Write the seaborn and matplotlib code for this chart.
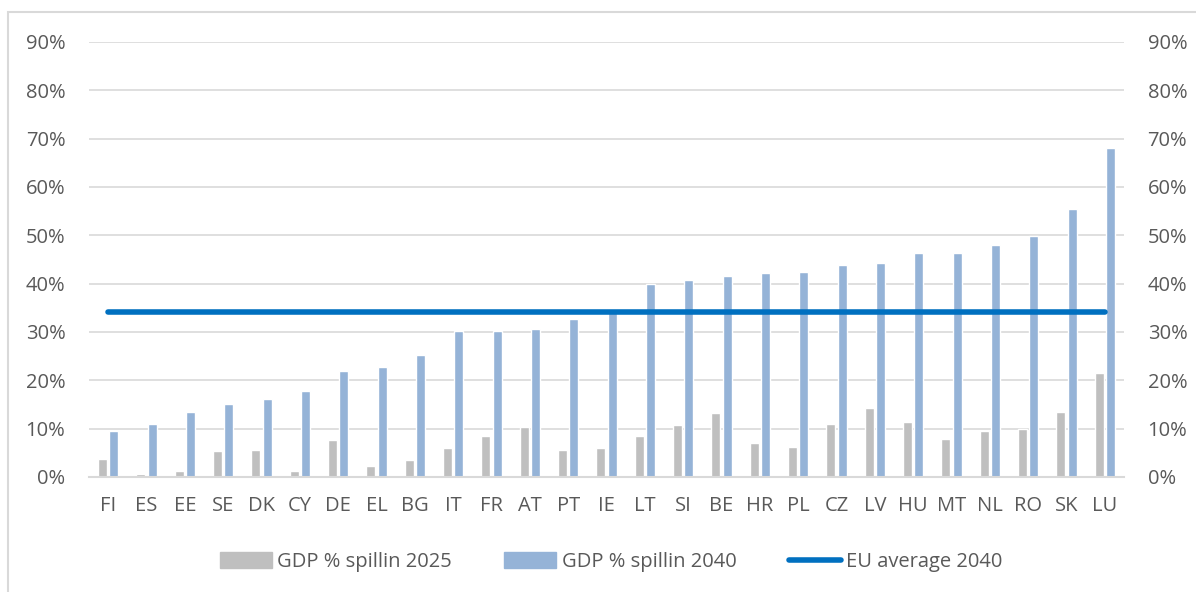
import pandas as pd
import numpy as np
import matplotlib.pyplot as plt
import matplotlib.patches as mpatches
from matplotlib.lines import Line2D
from matplotlib.ticker import PercentFormatter
import seaborn as sns

# Data
countries = ["FI", "ES", "EE", "SE", "DK", "CY", "DE", "EL", "BG", "IT", "FR", "AT", "PT", "IE",
             "LT", "SI", "BE", "HR", "PL", "CZ", "LV", "HU", "MT", "NL", "RO", "SK", "LU"]
spill_2025 = [3.8, 0.7, 1.3, 5.3, 5.6, 1.3, 7.7, 2.2, 3.5, 6.1, 8.5, 10.4, 5.6, 6.0,
              8.5, 10.7, 13.3, 7.0, 6.2, 11.0, 14.3, 11.4, 7.8, 9.5, 10.0, 13.4, 21.6]
spill_2040 = [9.5, 11.0, 13.5, 15.1, 16.1, 17.8, 22.0, 22.7, 25.2, 30.2, 30.3, 30.7, 32.7, 34.3,
              40.0, 40.8, 41.6, 42.3, 42.4, 43.8, 44.2, 46.3, 46.3, 48.0, 49.8, 55.4, 68.1]
eu_avg_2040 = 34.1

label_25 = "GDP % spillin 2025"
label_40 = "GDP % spillin 2040"
label_avg = "EU average 2040"

sns.set_theme(style="white")
plt.rcParams['font.family'] = ['Open Sans', 'DejaVu Sans']

df = pd.DataFrame({
    "country": countries * 2,
    "value": spill_2025 + spill_2040,
    "series": [label_25] * len(countries) + [label_40] * len(countries),
})

c_grey = "#BFBFBF"
c_blue = "#95B3D7"
c_line = "#0070C0"
c_text = "#595959"
c_grid = "#D9D9D9"
fs = 14.5

fig = plt.figure(figsize=(11.96, 5.92), dpi=100)
ax = fig.add_axes([89 / 1196, 1 - 477 / 592, (1124 - 89) / 1196, (477 - 42) / 592])

sns.barplot(data=df, x="country", y="value", hue="series", order=countries,
            palette=[c_grey, c_blue], width=0.6, gap=0.23, saturation=1,
            legend=False, ax=ax)

ax.plot([0, len(countries) - 1], [eu_avg_2040, eu_avg_2040], color=c_line,
        lw=4, solid_capstyle="round", zorder=5)

ax.set_ylim(0, 90)
ax.set_xlim(-0.5, len(countries) - 0.5)
ax.set_yticks(np.arange(0, 91, 10))
ax.yaxis.set_major_formatter(PercentFormatter(decimals=0))
ax.grid(axis="y", color=c_grid, lw=1.2)
ax.set_axisbelow(True)
for s in ["top", "right", "left"]:
    ax.spines[s].set_visible(False)
ax.spines["bottom"].set_color(c_grid)
ax.spines["bottom"].set_linewidth(1.5)
ax.set_xlabel("")
ax.set_ylabel("")
ax.tick_params(axis="both", length=0, labelsize=fs, colors=c_text)
ax.tick_params(axis="x", pad=14)
ax.tick_params(axis="y", pad=17)

ax2 = ax.twinx()
ax2.set_ylim(ax.get_ylim())
ax2.set_yticks(np.arange(0, 91, 10))
ax2.yaxis.set_major_formatter(PercentFormatter(decimals=0))
ax2.tick_params(axis="y", length=0, labelsize=fs, colors=c_text, pad=17)
for s in ax2.spines.values():
    s.set_visible(False)

handles = [mpatches.Patch(color=c_grey, label=label_25),
           mpatches.Patch(color=c_blue, label=label_40),
           Line2D([0], [0], color=c_line, lw=4, solid_capstyle="round", label=label_avg)]
leg = fig.legend(handles=handles, loc="center", bbox_to_anchor=(611 / 1196, 1 - 562 / 592),
                 ncol=3, frameon=False, fontsize=fs, labelcolor=c_text,
                 handlelength=2.6, handleheight=0.8, columnspacing=2.6, handletextpad=0.25)

# outer chart border
fig.add_artist(mpatches.Rectangle((8 / 1196, -0.05), 1.1, 1 - 12 / 592 + 0.05,
                                  transform=fig.transFigure, fill=False,
                                  edgecolor=c_grid, lw=1.5))

fig.savefig("out.png", dpi=100)
